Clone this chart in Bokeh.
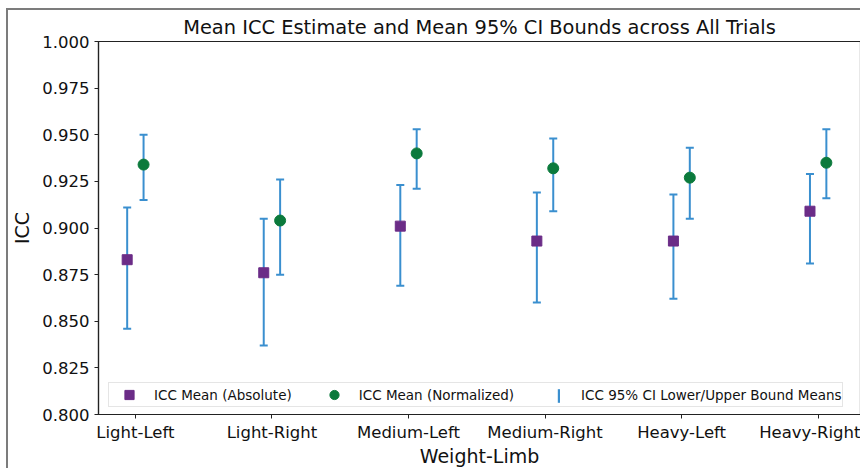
import numpy as np
from bokeh.plotting import figure
from bokeh.models import (ColumnDataSource, FixedTicker, NumeralTickFormatter, Range1d,
                          Legend, LegendItem)
from bokeh.embed import file_html
from bokeh.resources import INLINE

# Weight-limb conditions and mean ICC results across trials
categories = ["Light-Left", "Light-Right", "Medium-Left", "Medium-Right", "Heavy-Left", "Heavy-Right"]

abs_mean = [0.883, 0.876, 0.901, 0.893, 0.893, 0.909]
abs_lower = [0.846, 0.837, 0.869, 0.860, 0.862, 0.881]
abs_upper = [0.911, 0.905, 0.923, 0.919, 0.918, 0.929]

norm_mean = [0.934, 0.904, 0.940, 0.932, 0.927, 0.935]
norm_lower = [0.915, 0.875, 0.921, 0.909, 0.905, 0.916]
norm_upper = [0.950, 0.926, 0.953, 0.948, 0.943, 0.953]

y_ticks = [0.800, 0.825, 0.850, 0.875, 0.900, 0.925, 0.950, 0.975, 1.000]

FONT = "DejaVu Sans"
PURPLE = "#6b2c87"
GREEN = "#0b7a3c"
BLUE = "#3a8fcf"
DODGE = 0.06
STEM_W = 0.0146  # about 2 px at this scale

pos = np.arange(len(categories))
src_abs = ColumnDataSource(dict(x=pos - DODGE, mean=abs_mean, lo=abs_lower, hi=abs_upper))
src_norm = ColumnDataSource(dict(x=pos + DODGE, mean=norm_mean, lo=norm_lower, hi=norm_upper))

p = figure(width=854, height=460, output_backend="svg", toolbar_location=None,
           x_range=Range1d(-0.27, 5.31), y_range=Range1d(0.8, 1.0),
           min_border_left=88, min_border_right=2, min_border_top=31, min_border_bottom=56)
# thin border framing the whole figure on the left and top
p.styles = {"border-left": "2px solid #7c7c7c", "border-top": "2px solid #7c7c7c",
            "margin-left": "6px", "margin-top": "8px"}

p.title.text = "Mean ICC Estimate and Mean 95% CI Bounds across All Trials"
p.title.align = "center"
p.title.text_font = FONT
p.title.text_font_size = "19.4px"
p.title.text_font_style = "normal"
p.title.text_color = "#111111"
p.title.standoff = 6

p.grid.visible = False
p.outline_line_color = "#222222"
p.outline_line_width = 1.2
p.background_fill_color = "white"
p.border_fill_color = "white"

# error bars: stems and caps
stems = None
for src in (src_abs, src_norm):
    r = p.vbar(x="x", bottom="lo", top="hi", width=STEM_W, source=src,
               fill_color=BLUE, line_color=None)
    stems = stems or r
    p.scatter(x="x", y="lo", source=src, marker="dash", size=8, line_color=BLUE, line_width=2)
    p.scatter(x="x", y="hi", source=src, marker="dash", size=8, line_color=BLUE, line_width=2)

sq = p.scatter(x="x", y="mean", source=src_abs, marker="square", size=10,
               fill_color=PURPLE, line_color=PURPLE)
ci = p.scatter(x="x", y="mean", source=src_norm, marker="circle", size=11,
               fill_color=GREEN, line_color=GREEN)
# invisible stand-in that reserves the CI entry's slot in the main legend
placeholder = p.scatter(x="x", y="mean", source=src_abs, marker="circle", size=1, alpha=0)

legend = Legend(items=[LegendItem(label="ICC Mean (Absolute)", renderers=[sq]),
                       LegendItem(label="ICC Mean (Normalized)", renderers=[ci]),
                       LegendItem(label="ICC 95% CI Lower/Upper Bound Means", renderers=[placeholder])],
                orientation="horizontal", location=(10, 7),
                glyph_width=40, glyph_height=23, label_height=23, label_standoff=5,
                spacing=22, padding=0, margin=0,
                label_text_font=FONT, label_text_font_size="13.5px", label_text_color="#111111",
                border_line_color="#cccccc", border_line_width=1,
                background_fill_color="white", background_fill_alpha=0.85)
p.add_layout(legend, "center")

# icon for the CI entry, laid over the reserved slot
ci_legend = Legend(items=[LegendItem(label=" ", renderers=[stems])],
                   orientation="horizontal", location=(459, 10),
                   glyph_width=3, glyph_height=17, label_height=17, label_standoff=0,
                   padding=0, margin=0, label_text_font_size="1px",
                   border_line_color=None, background_fill_alpha=0)
p.add_layout(ci_legend, "center")

# axes
p.xaxis.ticker = FixedTicker(ticks=list(pos))
p.xaxis.major_label_overrides = {int(i): c for i, c in zip(pos, categories)}
p.yaxis.ticker = FixedTicker(ticks=y_ticks)
p.yaxis.formatter = NumeralTickFormatter(format="0.000")
for ax in (p.xaxis, p.yaxis):
    ax.axis_line_color = "#222222"
    ax.axis_line_width = 1.2
    ax.major_tick_line_color = "#222222"
    ax.major_tick_out = 4
    ax.major_tick_in = 0
    ax.minor_tick_line_color = None
    ax.major_label_text_font = FONT
    ax.major_label_text_font_size = "16.5px"
    ax.major_label_text_color = "#111111"
    ax.axis_label_text_font = FONT
    ax.axis_label_text_font_size = "19px"
    ax.axis_label_text_font_style = "normal"
    ax.axis_label_text_color = "#111111"
p.xaxis.axis_label = "Weight-Limb"
p.yaxis.axis_label = "ICC"
p.xaxis.major_label_standoff = 4
p.xaxis.axis_label_standoff = 0
p.yaxis.major_label_standoff = 5
p.yaxis.axis_label_standoff = 6

open("out.html", "w").write(file_html(p, INLINE))
